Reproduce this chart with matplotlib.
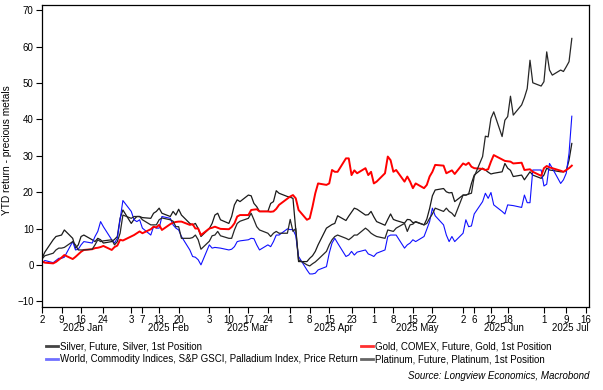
import matplotlib
matplotlib.use("Agg")
import matplotlib.pyplot as plt
from matplotlib.lines import Line2D
import pandas as pd
import datetime as dt

plt.rcParams['font.family'] = ['Liberation Sans', 'DejaVu Sans']

# daily (business day) YTD returns, % ; Jan 2 - Jul 11 2025
dates = pd.bdate_range("2025-01-02", "2025-07-11")

silver = [1.8, 3.5,
          6.9, 7.8, 8.0, 8.2, 9.6,
          7.3, 4.6, 5.5, 7.8, 8.2,
          6.9, 6.4, 7.3, 6.9, 6.0,
          6.4, 7.0, 7.8, 12.8, 15.1,
          11.4, 12.5, 13.3, 13.3, 13.0,
          12.8, 14.2, 14.7, 15.6, 14.2,
          13.3, 14.7, 13.7, 15.3, 13.7,
          11.4, 11.0, 11.4, 10.0, 7.8,
          10.0, 11.4, 13.7, 14.2, 12.4,
          11.4, 13.3, 16.5, 17.9, 17.4,
          19.2, 19.0, 16.9, 16.0, 14.7,
          14.7, 16.9, 17.4, 20.4, 19.7,
          18.8, 18.6, 18.3, 9.6, 0.9,
          0.9, 1.8, 2.5, 3.7, 5.5,
          10.1, 10.6, 11.1, 11.4, 13.5,
          12.2, 13.4, 14.5, 15.6, 15.3,
          13.7, 13.8, 14.7, 13.2, 11.9,
          10.9, 12.5, 14.0, 12.5, 12.2,
          11.5, 12.5, 12.4, 11.6, 11.8,
          11.0, 12.6, 15.5, 19.0, 20.6,
          21.0, 20.1, 19.8, 19.9, 17.4,
          19.2, 19.2, 19.5, 22.4, 24.7,
          26.6, 26.1, 25.5, 25.0, 25.2,
          25.6, 27.9, 26.6, 26.0, 24.3,
          24.7, 23.4, 24.5, 25.6, 24.7,
          23.8, 24.7, 26.6, 26.1, 26.0,
          25.6, 25.6, 25.9, 28.8, 33.4]

gold = [1.0, 0.6,
        0.4, 0.8, 1.4, 2.0, 2.7,
        1.6, 2.2, 2.9, 3.6, 4.1,
        4.3, 4.6, 4.7, 4.9, 5.2,
        4.1, 4.9, 5.3, 6.9, 6.7,
        7.8, 8.2, 8.7, 9.2, 8.7,
        9.8, 10.5, 10.3, 11.0, 9.6,
        11.2, 11.6, 11.8, 11.9, 11.9,
        11.0, 11.2, 10.0, 10.0, 8.2,
        10.0, 10.2, 10.5, 10.2, 9.9,
        9.8, 10.4, 11.4, 13.3, 13.7,
        13.7, 15.1, 15.2, 15.3, 14.7,
        14.7, 14.6, 14.7, 15.4, 16.5,
        18.2, 18.8, 19.2, 18.3, 15.1,
        12.4, 12.8, 16.0, 19.7, 22.4,
        22.0, 22.4, 26.1, 25.6, 25.6,
        29.3, 29.3, 24.7, 26.0, 25.2,
        26.6, 24.7, 25.6, 22.4, 22.9,
        25.2, 29.8, 28.8, 25.6, 26.1,
        22.9, 24.3, 22.9, 21.1, 22.4,
        21.1, 22.0, 24.3, 25.6, 27.5,
        27.3, 25.2, 25.6, 26.0, 25.0,
        27.9, 27.5, 28.1, 27.0, 26.6,
        26.4, 26.1, 26.3, 28.4, 30.2,
        29.0, 28.6, 28.5, 28.4, 27.9,
        28.1, 26.1, 26.2, 26.3, 25.6,
        24.5, 26.6, 27.2, 26.8, 26.6,
        25.9, 25.6, 26.1, 26.6, 27.3]

palladium = [0.3, 1.2,
             0.6, 1.2, 1.8, 1.8, 2.1,
             6.4, 4.1, 4.3, 5.5, 6.4,
             6.0, 7.8, 9.2, 11.9, 10.5,
             6.9, 6.0, 7.3, 12.4, 17.7,
             14.7, 12.4, 11.9, 12.4, 10.1,
             8.2, 10.5, 10.1, 10.1, 13.3,
             12.8, 11.0, 10.1, 9.6, 7.8,
             4.1, 2.3, 2.1, 1.4, 0.0,
             5.5, 4.6, 4.8, 4.7, 4.6,
             4.1, 4.3, 5.0, 6.4, 6.6,
             6.9, 7.3, 7.2, 5.5, 4.1,
             5.5, 5.0, 6.4, 8.2, 8.2,
             9.9, 9.7, 9.7, 8.0, 2.3,
             -1.4, -2.5, -2.5, -2.3, -1.4,
             -0.5, 3.2, 6.0, 7.3, 6.0,
             2.3, 2.7, 3.7, 2.7, 3.5,
             4.1, 3.0, 2.7, 2.3, 3.2,
             4.1, 7.8, 8.2, 8.2, 8.2,
             4.6, 5.5, 6.0, 6.9, 6.4,
             7.8, 9.8, 11.9, 15.6, 13.5,
             11.0, 8.2, 6.4, 7.8, 6.4,
             8.7, 12.4, 10.5, 10.7, 14.0,
             17.4, 19.7, 18.3, 19.9, 16.5,
             14.7, 14.0, 16.5, 16.4, 16.3,
             15.8, 19.2, 17.1, 17.1, 26.1,
             26.1, 21.7, 22.2, 27.9, 26.6,
             22.4, 23.4, 25.2, 30.7, 40.9]

platinum = [1.6, 2.5,
            3.2, 4.1, 4.6, 4.6, 4.8,
            6.4, 5.5, 4.1, 4.1, 4.1,
            4.3, 5.5, 6.9, 6.4, 6.6,
            6.9, 5.5, 6.4, 8.7, 13.7,
            12.8, 13.3, 13.3, 13.3, 12.4,
            11.0, 11.0, 11.0, 12.4, 12.9,
            12.4, 12.0, 10.5, 10.5, 7.3,
            7.3, 7.5, 8.2, 6.9, 4.3,
            6.5, 8.0, 8.2, 9.2, 8.0,
            7.3, 7.3, 9.6, 11.4, 12.0,
            12.8, 14.2, 12.4, 10.5, 9.6,
            8.7, 7.8, 8.7, 9.2, 8.7,
            8.7, 12.5, 9.2, 10.0, 1.4,
            0.0, -0.3, 0.3, 0.8, 1.5,
            3.7, 5.5, 6.9, 7.8, 8.2,
            7.3, 6.9, 7.5, 8.2, 8.2,
            10.1, 9.5, 8.7, 8.2, 7.8,
            7.3, 9.6, 9.4, 9.2, 10.1,
            11.4, 9.2, 11.0, 11.2, 11.9,
            11.0, 11.4, 12.8, 14.0, 15.6,
            14.7, 15.6, 14.7, 14.2, 13.3,
            19.2, 19.2, 19.5, 19.7, 24.3,
            29.8, 35.4, 35.2, 40.3, 42.1,
            35.3, 39.8, 40.8, 46.4, 41.2,
            44.0, 46.0, 48.5, 56.3, 50.1,
            49.2, 50.4, 58.6, 53.6, 52.2,
            53.6, 53.2, 54.5, 55.9, 62.3]

labels = ["Silver, Future, Silver, 1st Position",
          "World, Commodity Indices, S&P GSCI, Palladium Index, Price Return",
          "Gold, COMEX, Future, Gold, 1st Position",
          "Platinum, Future, Platinum, 1st Position"]

tick_days = ["2025-01-02", "2025-01-09", "2025-01-16", "2025-01-24",
             "2025-02-03", "2025-02-07", "2025-02-13", "2025-02-20",
             "2025-03-03", "2025-03-10", "2025-03-17", "2025-03-24",
             "2025-04-01", "2025-04-08", "2025-04-15", "2025-04-23",
             "2025-05-01", "2025-05-08", "2025-05-15", "2025-05-22",
             "2025-06-02", "2025-06-06", "2025-06-12", "2025-06-18",
             "2025-07-01", "2025-07-09", "2025-07-16"]
months = ["2025 Jan", "2025 Feb", "2025 Mar", "2025 Apr", "2025 May", "2025 Jun"]

fig = plt.figure(figsize=(6.03, 3.90), dpi=100)
ax = fig.add_axes([0.0697, 0.2128, 0.9071, 0.7744])

ax.plot(dates, silver, color="#1a1a1a", lw=0.9)
ax.plot(dates, palladium, color="#1010ff", lw=0.8)
ax.plot(dates, gold, color="#ff0000", lw=1.4)
ax.plot(dates, platinum, color="#262626", lw=0.9)

ax.set_xlim(dt.datetime(2025, 1, 2), dt.datetime(2025, 7, 17, 4))
ax.set_ylim(-11.6, 71.5)
ax.set_yticks(range(-10, 71, 10))

ticks = pd.to_datetime(tick_days)
ax.set_xticks(ticks)
ax.set_xticklabels([str(t.day) for t in ticks])
ax.tick_params(axis="both", labelsize=7, length=4, width=0.8, direction="out")
ax.tick_params(axis="x", pad=1.5)
ax.tick_params(axis="y", pad=2)
for s in ax.spines.values():
    s.set_linewidth(0.9)

# month labels under the day numbers
for i, m in enumerate(months):
    ax.text(dt.datetime(2025, i + 1, 16, 12), -0.07, m, transform=ax.get_xaxis_transform(),
            ha="center", va="center", fontsize=7)
ax.text(1.0, -0.07, "2025 Jul", transform=ax.transAxes, ha="right", va="center", fontsize=7)

ax.set_ylabel("YTD return - precious metals", fontsize=7.3)
ax.yaxis.set_label_coords(-0.055, 0.52)

handles = [Line2D([], [], color="#444444", lw=2),
           Line2D([], [], color="#7070ff", lw=2),
           Line2D([], [], color="#ff3030", lw=2),
           Line2D([], [], color="#666666", lw=2)]
fig.legend(handles, labels, ncol=2, loc="upper left", bbox_to_anchor=(0.0763, 0.124),
           frameon=False, fontsize=7, handlelength=1.25, handletextpad=0.2,
           columnspacing=0.3, labelspacing=0.25, borderaxespad=0, borderpad=0)

fig.text(0.977, 0.022, "Source: Longview Economics, Macrobond", ha="right", va="bottom",
         fontsize=7, style="italic")

fig.savefig("out.png", dpi=100)
